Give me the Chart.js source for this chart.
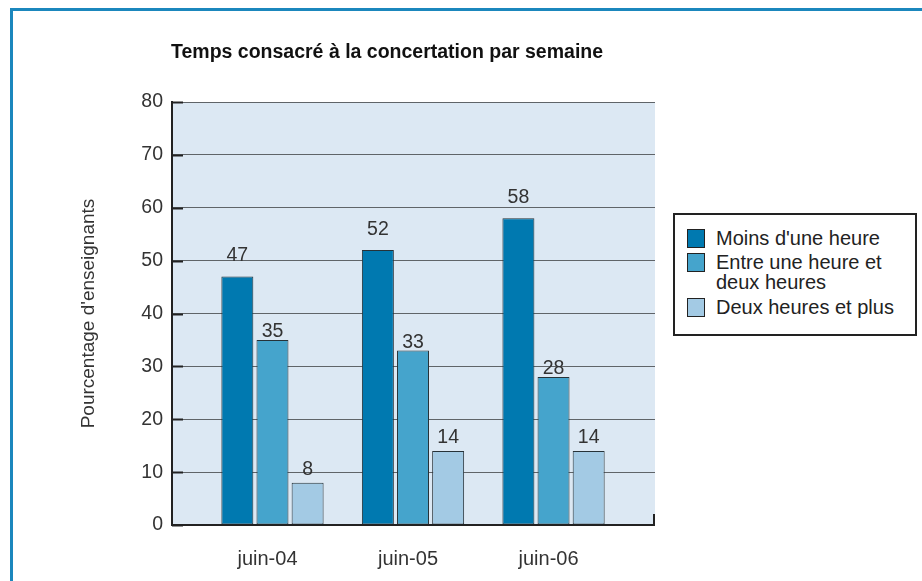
<!DOCTYPE html>
<html lang="fr">
<head>
<meta charset="utf-8">
<title>Temps consacré à la concertation par semaine</title>
<script src="https://cdn.jsdelivr.net/npm/chart.js@4.4.1/dist/chart.umd.min.js"></script>
<style>
  html, body { margin: 0; padding: 0; background: #fff; }
  #frame { position: relative; width: 922px; height: 581px; overflow: hidden; }
  #border { position: absolute; left: 10px; top: 8px; right: -4px; bottom: -4px;
            border-top: 3px solid #1b87bd; border-left: 3px solid #1b87bd; }
  #chartBox { position: absolute; left: 0; top: 0; width: 922px; height: 581px; }
  #legend { position: absolute; left: 673px; top: 213px; width: 240px; height: 119px;
            border: 2px solid #222; background: #fff;
            font: 20px "Liberation Sans", Arial, sans-serif; color: #222; }
  .item { position: absolute; left: 41px; line-height: 20px; white-space: nowrap; }
  .swatch { position: absolute; left: -29px; top: 1px; width: 16px; height: 17px; border: 1px solid #222; }
</style>
</head>
<body>
<div id="frame">
  <div id="border"></div>
  <div id="chartBox"><canvas id="chart" width="922" height="581"></canvas></div>
  <div id="legend"></div>
</div>
<script>
// Data
const CATEGORIES = ['juin-04', 'juin-05', 'juin-06'];
const SERIES_NAMES = ['Moins d\'une heure', 'Entre une heure et\ndeux heures', 'Deux heures et plus'];
const LESS_THAN_ONE = [47, 52, 58];
const ONE_TO_TWO = [35, 33, 28];
const TWO_OR_MORE = [8, 14, 14];
const Y_TICKS = [0, 10, 20, 30, 40, 50, 60, 70, 80];

const TITLE = 'Temps consacré à la concertation par semaine';
const Y_TITLE = 'Pourcentage d\'enseignants';

const COLORS = ['#0079b0', '#45a4cc', '#a3cae4'];
const LABEL_GAP = [15, 3, 8];
const FONT = '"Liberation Sans", Arial, sans-serif';

/**
 * Plot background, axis ticks, title and value labels
 */
const decorPlugin = {
  id: 'decor',
  beforeDraw(chart) {
    const { ctx, chartArea: a } = chart;
    ctx.save();
    ctx.fillStyle = '#dce8f3';
    ctx.fillRect(a.left, a.top, a.right - a.left, a.bottom - a.top);
    ctx.restore();
  },
  afterDraw(chart) {
    const { ctx, chartArea: a } = chart;
    const y = chart.scales.y;
    ctx.save();

    // short inner ticks on the value axis
    ctx.strokeStyle = '#222';
    ctx.lineWidth = 2;
    Y_TICKS.forEach(v => {
      const py = Math.round(y.getPixelForValue(v)) + 0.5;
      ctx.beginPath();
      ctx.moveTo(a.left, py);
      ctx.lineTo(a.left + 11, py);
      ctx.stroke();
    });

    // bottom axis line with end tick
    ctx.beginPath();
    ctx.moveTo(a.left, a.bottom);
    ctx.lineTo(a.right - 1, a.bottom);
    ctx.lineTo(a.right - 1, a.bottom - 11);
    ctx.stroke();

    // title
    ctx.fillStyle = '#111';
    ctx.font = 'bold 19.5px ' + FONT;
    ctx.textAlign = 'left';
    ctx.textBaseline = 'alphabetic';
    ctx.fillText(TITLE, a.left - 1, 58);

    // y axis title
    ctx.fillStyle = '#333';
    ctx.font = '19px ' + FONT;
    ctx.translate(89, (a.top + a.bottom) / 2);
    ctx.rotate(-Math.PI / 2);
    ctx.textAlign = 'center';
    ctx.textBaseline = 'middle';
    ctx.fillText(Y_TITLE, 0, 0);
    ctx.restore();

    // value labels above bars
    ctx.save();
    ctx.fillStyle = '#333';
    ctx.font = '19.5px ' + FONT;
    ctx.textAlign = 'center';
    ctx.textBaseline = 'alphabetic';
    chart.data.datasets.forEach((ds, i) => {
      chart.getDatasetMeta(i).data.forEach((bar, j) => {
        ctx.fillText(String(ds.data[j].y), bar.x, bar.y - LABEL_GAP[i]);
      });
    });
    ctx.restore();
  },
};

/**
 * Build the legend box from the series names and colours
 */
function buildLegend() {
  const legend = document.getElementById('legend');
  const tops = [13, 37, 82];
  legend.innerHTML = SERIES_NAMES.map((name, i) => `
    <div class="item" style="top:${tops[i]}px">
      <span class="swatch" style="background:${COLORS[i]}"></span>${name.replace('\n', '<br>')}
    </div>
  `).join('');
}

function makeDataset(label, values, i) {
  return {
    label: label,
    data: values.map((v, j) => ({ x: j, y: v })),
    backgroundColor: COLORS[i],
    borderColor: '#263238',
    borderWidth: 1,
    borderSkipped: false,
    categoryPercentage: 0.75,
    barPercentage: 0.91,
  };
}

document.addEventListener('DOMContentLoaded', () => {
  buildLegend();

  const ctx = document.getElementById('chart').getContext('2d');
  new Chart(ctx, {
    type: 'bar',
    data: {
      datasets: [
        makeDataset(SERIES_NAMES[0], LESS_THAN_ONE, 0),
        makeDataset(SERIES_NAMES[1], ONE_TO_TWO, 1),
        makeDataset(SERIES_NAMES[2], TWO_OR_MORE, 2),
      ],
    },
    plugins: [decorPlugin],
    options: {
      responsive: false,
      animation: false,
      layout: { padding: { left: 0, top: 102, right: 267, bottom: 0 } },
      scales: {
        x: {
          type: 'linear',
          offset: false,
          min: -0.715,
          max: 2.722,
          afterBuildTicks: scale => { scale.ticks = CATEGORIES.map((c, i) => ({ value: i })); },
          afterFit: scale => { scale.height = 56; },
          grid: { display: false, drawTicks: false },
          border: { display: false },
          ticks: {
            autoSkip: false,
            maxRotation: 0,
            padding: 22,
            labelOffset: -5,
            color: '#333',
            font: { family: FONT, size: 20 },
            callback: v => CATEGORIES[v] || '',
          },
        },
        y: {
          min: 0,
          max: 80,
          afterBuildTicks: scale => { scale.ticks = Y_TICKS.map(v => ({ value: v })); },
          afterFit: scale => { scale.width = 172; },
          grid: { color: '#5f6468', lineWidth: 1, drawTicks: false },
          border: { display: true, color: '#222', width: 2 },
          ticks: {
            padding: 9,
            color: '#333',
            font: { family: FONT, size: 19.5 },
          },
        },
      },
      plugins: {
        legend: { display: false },
        tooltip: { enabled: false },
      },
    },
  });
});
</script>
</body>
</html>
